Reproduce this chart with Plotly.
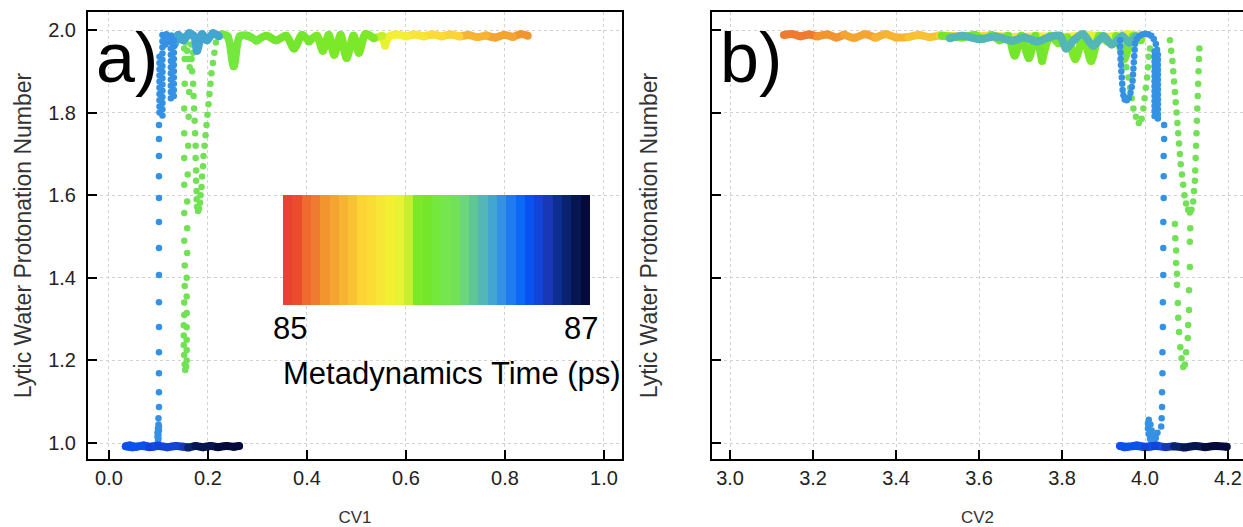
import plotly.graph_objects as go

# ---------------- colour scale (metadynamics time, ps) ----------------
TIME_MIN, TIME_MAX = 85.0, 87.0
band_colors = ["#E8432E", "#EA4D2E", "#EE6A2E", "#F07A2F", "#F2952F", "#F4A531", "#F7B433",
               "#F9C134", "#FCD434", "#FADC35", "#F7E636", "#F3EF33", "#E6F233", "#C6EF30",
               "#7CE82A", "#74E62C", "#74E83D", "#75E64F", "#72E155", "#6CD67C", "#5FC796",
               "#54B6B6", "#43A6D0", "#3591E4", "#1E7BF0", "#0C69F5", "#0A52F0", "#1443D8",
               "#1A38B6", "#0F2E92", "#0A2370", "#061652", "#040A3A"]
colorbar_ticks = ["85", "87"]

x_ticks_a = [0.0, 0.2, 0.4, 0.6, 0.8, 1.0]
x_ticks_b = [3.0, 3.2, 3.4, 3.6, 3.8, 4.0, 4.2]
y_ticks = [1.0, 1.2, 1.4, 1.6, 1.8, 2.0]

# ---------------- panel a (CV1) ----------------
a_plateau_t = [85.27, 85.29, 85.31, 85.33, 85.35, 85.37, 85.39, 85.41, 85.49, 85.53, 85.56, 85.60,
               85.63, 85.66, 85.68, 85.70, 85.72, 85.75, 85.79, 85.85, 85.86, 85.865, 85.87, 85.875,
               85.88, 85.885, 85.89, 85.895, 85.90, 85.91, 85.92, 85.93, 85.94, 85.95, 85.96, 85.97,
               85.98, 85.99, 86.00, 86.01, 86.02]
a_plateau_cv1 = [0.846, 0.832, 0.816, 0.798, 0.780, 0.762, 0.744, 0.726, 0.708, 0.690, 0.672, 0.654,
                 0.636, 0.618, 0.600, 0.582, 0.566, 0.558, 0.552, 0.535, 0.518, 0.505, 0.494, 0.480,
                 0.468, 0.455, 0.444, 0.432, 0.420, 0.404, 0.390, 0.374, 0.358, 0.338, 0.318, 0.298,
                 0.280, 0.264, 0.252, 0.240, 0.228]
a_plateau_y = [1.986, 1.990, 1.983, 1.988, 1.982, 1.987, 1.983, 1.988, 1.984, 1.989, 1.984, 1.989,
               1.984, 1.989, 1.984, 1.989, 1.984, 1.962, 1.986, 1.980, 1.990, 1.945, 1.986, 1.932,
               1.988, 1.940, 1.988, 1.950, 1.986, 1.972, 1.988, 1.955, 1.986, 1.975, 1.986, 1.974,
               1.986, 1.984, 1.912, 1.984, 1.990]

a_green_time = 86.12
a_green_cv1 = [0.216, 0.213, 0.210, 0.207, 0.205, 0.203, 0.201, 0.199, 0.197, 0.195, 0.193, 0.191,
               0.190, 0.188, 0.187, 0.185, 0.184, 0.182, 0.180, 0.178, 0.177, 0.177, 0.176, 0.176,
               0.175, 0.175, 0.174, 0.173, 0.172, 0.171, 0.170, 0.168, 0.167,
               0.153, 0.153, 0.152, 0.152, 0.152, 0.152, 0.152, 0.152, 0.153, 0.153, 0.152, 0.152,
               0.151, 0.151, 0.151, 0.152, 0.153, 0.154,
               0.156, 0.157, 0.157, 0.157, 0.157, 0.157, 0.157, 0.157, 0.158, 0.158, 0.158, 0.159,
               0.160, 0.161, 0.162, 0.163,
               0.150, 0.155, 0.158, 0.162, 0.166, 0.170, 0.160, 0.152]
a_green_y = [1.970, 1.945, 1.920, 1.895, 1.870, 1.845, 1.820, 1.795, 1.770, 1.745, 1.720, 1.695,
             1.670, 1.645, 1.620, 1.600, 1.582, 1.567, 1.562, 1.572, 1.590, 1.610, 1.635, 1.660,
             1.690, 1.720, 1.750, 1.780, 1.810, 1.840, 1.870, 1.900, 1.930,
             1.930, 1.870, 1.810, 1.750, 1.690, 1.625, 1.557, 1.490, 1.430, 1.380, 1.340, 1.310,
             1.285, 1.260, 1.237, 1.213, 1.190, 1.177,
             1.185, 1.200, 1.225, 1.250, 1.280, 1.315, 1.355, 1.400, 1.460, 1.520, 1.585, 1.650,
             1.720, 1.790, 1.850, 1.910,
             1.985, 1.970, 1.950, 1.985, 1.965, 1.945, 1.930, 1.955]

a_teal_t = [86.34, 86.342, 86.344, 86.346, 86.348, 86.35, 86.352, 86.354, 86.356, 86.358, 86.36]
a_teal_cv1 = [0.222, 0.210, 0.198, 0.188, 0.178, 0.172, 0.162, 0.150, 0.140, 0.132, 0.126]
a_teal_y = [1.985, 1.992, 1.975, 1.990, 1.950, 1.985, 1.992, 1.975, 1.988, 1.965, 1.985]

a_blue_time = 86.42
a_blue_cv1 = [0.125, 0.125, 0.125, 0.125, 0.125, 0.125, 0.125, 0.125, 0.125, 0.125, 0.125,
              0.131, 0.131, 0.131, 0.131, 0.131, 0.131, 0.131, 0.131, 0.131, 0.131,
              0.108, 0.108, 0.108, 0.108, 0.108, 0.108, 0.108, 0.108, 0.108, 0.108, 0.108, 0.108,
              0.108, 0.108,
              0.102, 0.102, 0.102, 0.102, 0.102, 0.102, 0.102, 0.102, 0.102, 0.102,
              0.112, 0.116, 0.120, 0.114,
              0.101, 0.101, 0.101, 0.101, 0.101, 0.101, 0.101, 0.101, 0.101, 0.101, 0.101, 0.101,
              0.101, 0.101, 0.100,
              0.100, 0.099, 0.098, 0.098, 0.099, 0.101, 0.101, 0.100, 0.100]
a_blue_y = [1.985, 1.970, 1.955, 1.940, 1.925, 1.910, 1.895, 1.880, 1.865, 1.850, 1.835,
            1.840, 1.855, 1.870, 1.885, 1.900, 1.915, 1.930, 1.945, 1.960, 1.975,
            1.988, 1.973, 1.958, 1.943, 1.928, 1.913, 1.898, 1.883, 1.868, 1.853, 1.838, 1.823,
            1.808, 1.793,
            1.800, 1.815, 1.830, 1.845, 1.860, 1.875, 1.890, 1.905, 1.920, 1.935,
            1.985, 1.990, 1.975, 1.965,
            1.770, 1.736, 1.695, 1.646, 1.593, 1.535, 1.472, 1.407, 1.341, 1.281, 1.220, 1.169,
            1.123, 1.087, 1.060,
            1.045, 1.035, 1.025, 1.015, 1.005, 1.040, 1.030, 1.020, 1.010]

a_floor_t = [86.58, 86.585, 86.59, 86.595, 86.60, 86.605, 86.61, 86.62, 86.64, 86.66, 86.68,
             86.69, 86.70, 86.86, 86.88, 86.90, 86.92, 86.94, 86.96, 86.98, 87.0]
a_floor_cv1 = [0.100, 0.085, 0.070, 0.055, 0.042, 0.034, 0.048, 0.065, 0.082, 0.100, 0.118,
               0.135, 0.150, 0.160, 0.175, 0.190, 0.205, 0.220, 0.238, 0.252, 0.263]
a_floor_y = [0.994, 0.991, 0.994, 0.991, 0.994, 0.992, 0.990, 0.993, 0.990, 0.993, 0.990,
             0.993, 0.991, 0.989, 0.993, 0.990, 0.993, 0.990, 0.993, 0.991, 0.993]

# ---------------- panel b (CV2) ----------------
b_plateau_t = [85.19, 85.20, 85.21, 85.22, 85.25, 85.27, 85.29, 85.31, 85.33, 85.35, 85.37, 85.39,
               85.41, 85.43, 85.45, 85.47, 85.49, 85.55, 85.60, 85.64, 85.68, 85.71, 85.74, 85.76,
               85.78, 85.80,
               85.85, 85.855, 85.86, 85.865, 85.87, 85.875, 85.88, 85.885, 85.89, 85.895, 85.90,
               85.905, 85.91, 85.915, 85.92, 85.925, 85.93, 85.935, 85.94, 85.945, 85.95, 85.955,
               85.96, 85.965]
b_plateau_cv2 = [3.130, 3.150, 3.170, 3.190, 3.210, 3.235, 3.255, 3.275, 3.300, 3.325, 3.350, 3.375,
                 3.400, 3.430, 3.455, 3.480, 3.505, 3.560, 3.620, 3.680, 3.740, 3.800, 3.860, 3.920,
                 3.960, 3.995,
                 3.990, 3.970, 3.950, 3.930, 3.910, 3.890, 3.870, 3.852, 3.832, 3.812, 3.792,
                 3.772, 3.752, 3.736, 3.720, 3.702, 3.686, 3.670, 3.650, 3.630, 3.610, 3.590,
                 3.560, 3.510]
b_plateau_y = [1.988, 1.990, 1.985, 1.989, 1.984, 1.989, 1.982, 1.989, 1.981, 1.990, 1.981, 1.990,
               1.982, 1.983, 1.988, 1.983, 1.987, 1.984, 1.986, 1.983, 1.985, 1.983, 1.988, 1.984,
               1.990, 1.986,
               1.975, 1.985, 1.930, 1.985, 1.972, 1.986, 1.925, 1.985, 1.930, 1.982, 1.968,
               1.986, 1.925, 1.986, 1.932, 1.986, 1.938, 1.986, 1.975, 1.988, 1.978, 1.988,
               1.982, 1.986]

b_green_time = 86.12
b_green_cv2 = [3.950, 3.952, 3.955, 3.960, 3.964, 3.968, 3.972, 3.978, 3.985, 3.992, 3.996, 3.999,
               4.002, 4.005, 4.007, 4.009, 4.012,
               4.060, 4.063, 4.066, 4.068, 4.070, 4.072, 4.074, 4.076, 4.078, 4.080, 4.082, 4.084,
               4.086, 4.089, 4.092, 4.095, 4.099, 4.104, 4.108, 4.112, 4.116, 4.118, 4.120, 4.121,
               4.122, 4.123, 4.124, 4.125, 4.126, 4.127, 4.128, 4.129, 4.130, 4.131,
               4.072, 4.073, 4.075, 4.075, 4.077, 4.077, 4.079, 4.080, 4.082, 4.085, 4.088, 4.092,
               4.096, 4.099, 4.103, 4.104, 4.106, 4.106, 4.108, 4.108, 4.109]
b_green_y = [1.960, 1.935, 1.910, 1.885, 1.860, 1.835, 1.810, 1.790, 1.775, 1.785, 1.810, 1.835,
             1.860, 1.885, 1.910, 1.935, 1.955,
             1.975, 1.950, 1.925, 1.900, 1.875, 1.850, 1.825, 1.800, 1.775, 1.750, 1.725, 1.700,
             1.675, 1.650, 1.625, 1.600, 1.580, 1.565, 1.558, 1.565, 1.585, 1.610, 1.635, 1.660,
             1.690, 1.720, 1.750, 1.780, 1.810, 1.840, 1.870, 1.900, 1.930, 1.955,
             1.530, 1.496, 1.466, 1.436, 1.410, 1.383, 1.339, 1.303, 1.269, 1.232, 1.205, 1.184,
             1.190, 1.220, 1.254, 1.286, 1.322, 1.370, 1.426, 1.487, 1.520]

b_teal_t = [86.29, 86.292, 86.294, 86.296, 86.298, 86.30, 86.302, 86.304, 86.306, 86.308, 86.31,
            86.312, 86.314, 86.316, 86.318, 86.32, 86.322, 86.324]
b_teal_cv2 = [3.530, 3.560, 3.600, 3.640, 3.680, 3.710, 3.740, 3.770, 3.795, 3.810, 3.828,
              3.850, 3.875, 3.900, 3.920, 3.945, 3.962, 3.978]
b_teal_y = [1.980, 1.986, 1.978, 1.984, 1.974, 1.982, 1.972, 1.983, 1.986, 1.955, 1.975,
            1.990, 1.962, 1.985, 1.965, 1.985, 1.970, 1.985]

b_blue_time = 86.42
b_blue_cv2 = [3.940, 3.940, 3.941, 3.941, 3.942, 3.943, 3.944, 3.945, 3.946, 3.948, 3.951, 3.956,
              3.961, 3.965, 3.968, 3.970, 3.971, 3.972, 3.973, 3.974, 3.975, 3.976,
              3.980, 3.986, 3.993, 4.000, 4.008, 4.015, 4.021, 4.026, 4.029,
              4.031, 4.031, 4.031, 4.031, 4.031, 4.031, 4.031, 4.031, 4.031, 4.031, 4.031, 4.031,
              4.031, 4.031,
              4.023, 4.023, 4.023, 4.023, 4.023, 4.023, 4.023, 4.023, 4.023, 4.023, 4.023, 4.023,
              4.023, 4.023,
              4.046, 4.046, 4.045, 4.045, 4.045, 4.044, 4.044, 4.044, 4.043, 4.043, 4.042, 4.042,
              4.041, 4.041, 4.040, 4.039,
              4.030, 4.026, 4.021, 4.016, 4.012, 4.009, 4.007, 4.007, 4.009, 4.013, 4.016, 4.019]
b_blue_y = [1.975, 1.960, 1.945, 1.930, 1.915, 1.900, 1.885, 1.870, 1.855, 1.842, 1.832, 1.830,
            1.836, 1.848, 1.862, 1.877, 1.892, 1.907, 1.922, 1.937, 1.952, 1.967,
            1.978, 1.985, 1.989, 1.991, 1.990, 1.986, 1.978, 1.966, 1.952,
            1.940, 1.928, 1.916, 1.904, 1.892, 1.880, 1.868, 1.856, 1.844, 1.832, 1.820, 1.808,
            1.796, 1.786,
            1.792, 1.804, 1.816, 1.828, 1.840, 1.852, 1.864, 1.876, 1.888, 1.900, 1.912, 1.924,
            1.936, 1.948,
            1.770, 1.736, 1.695, 1.646, 1.593, 1.535, 1.472, 1.407, 1.341, 1.281, 1.220, 1.169,
            1.123, 1.087, 1.060, 1.040,
            1.025, 1.012, 1.004, 1.003, 1.010, 1.022, 1.035, 1.047, 1.056, 1.045, 1.030, 1.018]

b_floor_t = [86.58, 86.585, 86.59, 86.595, 86.60, 86.61, 86.62, 86.64, 86.66, 86.70, 86.82, 86.88,
             86.92, 86.95, 86.98, 87.0]
b_floor_cv2 = [4.030, 4.005, 3.980, 3.958, 3.940, 3.950, 3.975, 4.000, 4.025, 4.050, 4.070, 4.095,
               4.120, 4.145, 4.170, 4.197]
b_floor_y = [0.994, 0.991, 0.994, 0.991, 0.993, 0.990, 0.993, 0.990, 0.993, 0.990, 0.992, 0.989,
             0.993, 0.990, 0.993, 0.991]

# ---------------- helpers ----------------
N_BANDS = len(band_colors)
stepped_scale = []
for i, c in enumerate(band_colors):
    stepped_scale.append([i / N_BANDS, c])
    stepped_scale.append([(i + 1) / N_BANDS, c])


def band_of(t):
    k = int((t - TIME_MIN) / (TIME_MAX - TIME_MIN) * N_BANDS)
    return max(0, min(N_BANDS - 1, k))


fig = go.Figure()
PATH_W = 8
DOT_SIZE = 6.5


def add_path(ts, xs, ys, xa, ya):
    start = 0
    n = len(ts)
    for i in range(1, n + 1):
        if i == n or band_of(ts[i]) != band_of(ts[start]):
            end = min(i + 1, n)
            fig.add_trace(go.Scatter(
                x=xs[start:end], y=ys[start:end], xaxis=xa, yaxis=ya, mode="lines",
                line=dict(color=band_colors[band_of(ts[start])], width=PATH_W,
                          shape="spline", smoothing=0.8),
                hoverinfo="skip", showlegend=False))
            start = i
    fig.add_trace(go.Scatter(
        x=xs, y=ys, xaxis=xa, yaxis=ya, mode="markers",
        marker=dict(size=PATH_W, color=ts, coloraxis="coloraxis", line=dict(width=0)),
        showlegend=False))


def add_dots(t, xs, ys, xa, ya):
    fig.add_trace(go.Scatter(
        x=xs, y=ys, xaxis=xa, yaxis=ya, mode="markers",
        marker=dict(size=DOT_SIZE, color=[t] * len(xs), coloraxis="coloraxis",
                    line=dict(width=0)),
        showlegend=False))


# panel a, in time order
add_path(a_plateau_t, a_plateau_cv1, a_plateau_y, "x", "y")
add_dots(a_green_time, a_green_cv1, a_green_y, "x", "y")
add_path(a_teal_t, a_teal_cv1, a_teal_y, "x", "y")
add_dots(a_blue_time, a_blue_cv1, a_blue_y, "x", "y")
add_path(a_floor_t, a_floor_cv1, a_floor_y, "x", "y")

# panel b, in time order
add_path(b_plateau_t, b_plateau_cv2, b_plateau_y, "x2", "y2")
add_dots(b_green_time, b_green_cv2, b_green_y, "x2", "y2")
add_path(b_teal_t, b_teal_cv2, b_teal_y, "x2", "y2")
add_dots(b_blue_time, b_blue_cv2, b_blue_y, "x2", "y2")
add_path(b_floor_t, b_floor_cv2, b_floor_y, "x2", "y2")

FONT = "Liberation Sans, Arial, Helvetica, sans-serif"
TICK_FONT = dict(family=FONT, size=20, color="#222222")
TITLE_FONT = dict(family=FONT, size=17, color="#333333")
YTITLE_FONT = dict(family=FONT, size=23, color="#333333")

common_x = dict(showline=True, linecolor="black", linewidth=2, mirror=True,
                ticks="inside", ticklen=9, tickwidth=2, tickcolor="black",
                showgrid=True, gridcolor="#d2d2d2", griddash="dot", gridwidth=1,
                zeroline=False, tickfont=TICK_FONT, tickformat=".1f", automargin=False)
common_y = dict(showline=True, linecolor="black", linewidth=2,
                ticks="inside", ticklen=9, tickwidth=2, tickcolor="black",
                showgrid=True, gridcolor="#d2d2d2", griddash="dot", gridwidth=1,
                zeroline=False, tickfont=TICK_FONT, tickformat=".1f", automargin=False,
                range=[0.96126, 2.04358], tickvals=y_ticks)

fig.update_layout(
    width=1243, height=527,
    margin=dict(l=88, r=0, t=12, b=68),
    paper_bgcolor="white", plot_bgcolor="white",
    font=dict(family=FONT),
    xaxis=dict(domain=[0, 0.4623], range=[-0.0424, 1.0364], tickvals=x_ticks_a,
               title=dict(text="CV1", font=TITLE_FONT, standoff=26), anchor="y", **common_x),
    yaxis=dict(domain=[0, 1], anchor="x", mirror=True, ticklabelstandoff=6,
               title=dict(text="Lytic Water Protonation Number", font=YTITLE_FONT, standoff=10),
               **common_y),
    xaxis2=dict(domain=[0.5403, 1.0], range=[2.9566, 4.2361], tickvals=x_ticks_b,
                title=dict(text="CV2", font=TITLE_FONT, standoff=26), anchor="y2", **common_x),
    yaxis2=dict(domain=[0, 1], anchor="x2", mirror=False, showticklabels=False,
                title=dict(text="Lytic Water Protonation Number", font=YTITLE_FONT, standoff=46),
                **common_y),
    coloraxis=dict(
        colorscale=stepped_scale, cmin=TIME_MIN, cmax=TIME_MAX,
        colorbar=dict(orientation="h", x=0.3017, xanchor="center", y=0.4676, yanchor="middle",
                      len=307, lenmode="pixels", thickness=110, thicknessmode="pixels",
                      outlinewidth=0, showticklabels=False, ticks="", xpad=0, ypad=0),
    ),
    annotations=[
        dict(text="a)", x=0.012, y=0.897, xref="x domain", yref="y domain", xanchor="left",
             yanchor="middle", showarrow=False, font=dict(family=FONT, size=70, color="black")),
        dict(text="b)", x=0.011, y=0.897, xref="x2 domain", yref="y2 domain", xanchor="left",
             yanchor="middle", showarrow=False, font=dict(family=FONT, size=70, color="black")),
        dict(text=colorbar_ticks[0], x=0.1749, y=0.293, xref="paper", yref="paper",
             xanchor="center", yanchor="middle", showarrow=False,
             font=dict(family=FONT, size=31, color="black")),
        dict(text=colorbar_ticks[1], x=0.4268, y=0.293, xref="paper", yref="paper",
             xanchor="center", yanchor="middle", showarrow=False,
             font=dict(family=FONT, size=31, color="black")),
        dict(text="Metadynamics Time (ps)", x=0.3151, y=0.192, xref="paper", yref="paper",
             xanchor="center", yanchor="middle", showarrow=False,
             font=dict(family=FONT, size=31, color="black")),
    ],
)

fig.write_html("out.html", config={"displayModeBar": False},
               post_script="document.body.style.margin='0';document.body.style.overflow='hidden';")
